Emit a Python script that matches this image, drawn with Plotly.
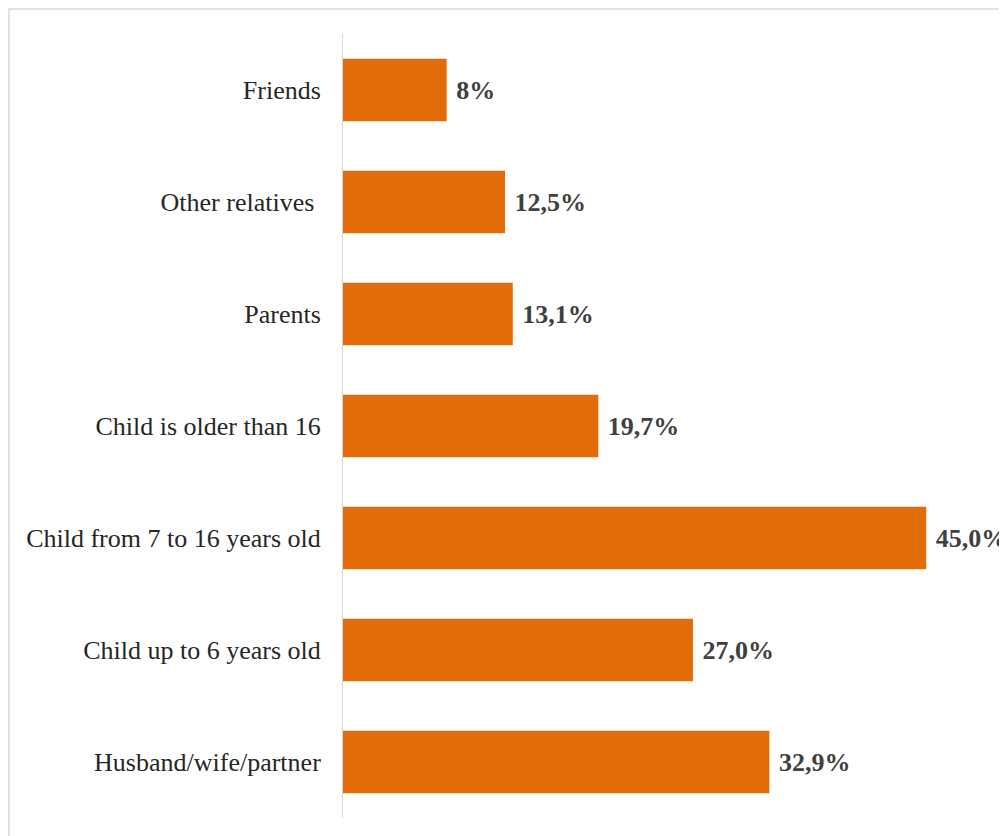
import plotly.graph_objects as go

categories = ["Husband/wife/partner", "Child up to 6 years old", "Child from 7 to 16 years old",
              "Child is older than 16", "Parents", "Other relatives ", "Friends"]
values = [32.9, 27.0, 45.0, 19.7, 13.1, 12.5, 8.0]
value_labels = ["32,9%", "27,0%", "45,0%", "19,7%", "13,1%", "12,5%", "8%"]

fig = go.Figure(go.Bar(
    y=categories, x=values, orientation="h",
    marker=dict(color="#E36C0A", line=dict(width=0)),
    width=0.56,
    text=[" " + t for t in value_labels],
    textposition="outside",
    cliponaxis=False,
    textfont=dict(family="Liberation Serif", size=26, color="#404040", weight="bold"),
    hoverinfo="skip",
))

L, T, PW, PH = 335, 26, 648, 784

fig.update_layout(
    width=999, height=828,
    margin=dict(l=L, r=999 - L - PW, t=T, b=828 - T - PH),
    paper_bgcolor="white", plot_bgcolor="white",
    showlegend=False,
    font=dict(family="Liberation Serif", size=26, color="#262626"),
    xaxis=dict(range=[0, 50], visible=False, fixedrange=True),
    yaxis=dict(showline=True, linecolor="#D9D9D9", linewidth=1, ticks="",
               showgrid=False, ticklabelstandoff=16, fixedrange=True,
               tickfont=dict(family="Liberation Serif", size=26, color="#262626")),
    shapes=[dict(type="rect", xref="paper", yref="paper",
                 x0=(1 - L) / PW, x1=1.3, y0=-0.2, y1=1 + (T - 1) / PH,
                 line=dict(color="#D9D9D9", width=1.5), fillcolor="rgba(0,0,0,0)", layer="below")],
)

fig.write_html("out.html")
